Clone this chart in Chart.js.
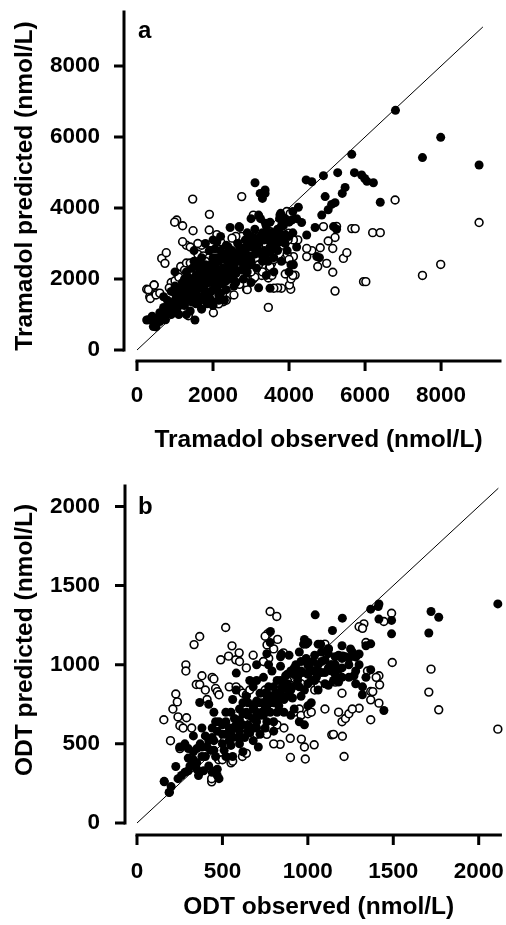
<!DOCTYPE html>
<html><head><meta charset="utf-8">
<script src="https://cdn.jsdelivr.net/npm/chart.js@4.4.1/dist/chart.umd.min.js"></script>
<style>
html,body{margin:0;padding:0;background:#fff;}
#wrap{width:506px;height:925px;position:relative;overflow:hidden;}
canvas{display:block;position:absolute;left:0;}
</style></head><body>
<div id="wrap">
<canvas id="ca" width="506" height="460" style="top:0;width:506px;height:460px"></canvas>
<canvas id="cb" width="506" height="465" style="top:460px;width:506px;height:465px"></canvas>
</div>
<script>
// ---------- Panel a: Tramadol (nmol/L) ----------
const tramadolTicks = [0, 2000, 4000, 6000, 8000];
const tramadolIdentity = [0, 9100];
const tramadolFilled = [
 [6800,6750],[7990,5990],[7510,5420],[9000,5210],[5650,5510],[5280,4995],[4905,4910],[4450,4790],[4600,4740],
 [5720,4995],[5910,4930],[5990,4830],[6220,4710],[6050,4750],[6400,4160],[5475,4580],[5400,4410],[5210,4150],
 [5120,4100],[4950,4320],[5030,3950],[4860,3800],[4245,4020],[4330,3590],[4685,3450],[5170,3475],[4465,3240],
 [4115,2400],[4730,2630],[3105,4710],[3370,4410],[3370,4510],[3300,4270],[2685,3475],[3380,3570],[3760,3800],
 [3820,3750],[3500,1740],[1525,845],[255,845],[430,660],[5250,3400],[4800,2600],[3780,3850],[4070,3660],[3240,4410],
 [300,850],[420,800],[500,650],[550,900],[600,1050],[650,980],[700,1200],[750,850],[800,1100],[850,1300],[900,1000],
 [950,1250],[1000,1400],[1050,1150],[1100,1550],[1150,1350],[1200,1700],[1250,1250],[1300,1500],[1350,1800],
 [1400,1600],[1450,1350],[1500,1900],[1550,2100],[1600,1750],[1650,1500],[1700,2000],[1750,2250],[1800,1850],
 [1850,1600],[1900,2100],[1950,2400],[2000,1900],[2050,2200],[2100,1750],[2150,2500],[2200,2050],[2250,2300],
 [2300,2700],[2350,1950],[2400,2450],[2450,2200],[2500,2800],[2550,2350],[2600,2600],[2650,3000],[2700,2500],
 [2750,2250],[2800,2800],[2850,3100],[2900,2600],[2950,2400],[3000,3200],[3050,2900],[3100,2700],[3150,2300],
 [3200,3000],[3300,3300],[3350,2800],[3400,3500],[3450,3100],[3500,2900],[3550,3300],[3600,3150],[3700,3400],
 [3750,3700],[3800,3050],[3850,3500],[3900,3250],[3950,2800],[4000,3600],[4050,2400],[4100,3900],[4200,3700],
 [1300,2200],[1500,2800],[1600,2350],[1700,2600],[1800,3000],[1900,2800],[2000,3100],[2100,3050],[2200,3200],
 [2400,2900],[1000,2200],[1200,1900],[1100,1000],[1400,1100],[1700,1150],[2000,1250],[2300,1400],[1850,1300],
 [2600,1900],[2800,2000],[3000,1900],[3200,1750],[3400,2100],[3600,2200],[3800,2500],[4000,2200],[3700,2800],
 [3300,2500],[2900,2200],[2500,2000],[2200,1600],[1900,1500],[1600,1300],[1300,1000],[800,1400],[900,1650],
 [700,1500],[1000,1800],[2350,2950],[2450,3450],[2700,3450],[2900,3300],[3100,3400],[3250,3700],[3500,3600],
 [1500,2500],[1800,2150],[2100,2600],[2400,2200],[2700,2900],[3000,2400],[3600,2600],[3900,3700],[4000,3200],
 [1100,1250],[1250,1650],[1450,1950],[1650,2200],[1950,1650],[2250,1850],[2550,2700],[2850,2500],[3450,2500],
 [3700,3200],[600,800],[1350,1400],[1750,1700],[2050,2050],[2150,1400],[1550,1600],[1450,2300],[1000,1600],
 [3000,3700],[3200,3800],[2050,2850],[2250,2650],[1600,2450],[1900,1900],[2500,2400],[700,1000],[400,950],
 [1150,1750],[1250,2000],[1350,2050],[1450,1700],[1550,1850],[1650,1950],[1750,1950],[1850,2000],[1950,2150],
 [2050,2400],[2150,2250],[2250,2050],[2350,2200],[2450,2350],[2550,2500],[2650,2700],[2750,2650],[2850,2800],
 [2950,2900],[3050,3100],[3150,3000],[3250,3200],[3350,3100],[3450,3300],[3550,3050],[3650,3000],[3750,3300],
 [3850,3150],[1200,1450],[1400,1800],[1600,2000],[1800,2400],[2000,2600],[2200,2800],[2400,2650],[2600,2250],
 [2800,2450],[3000,2650],[3200,2800],[3400,2700],[3600,2900],[3800,3500],[1700,1800],[1900,2300],[2100,2050],
 [2300,2550],[2500,2600],[2700,2750],[2900,2950],[3100,3150],[1000,1150],[900,1300],[800,1200],[1500,1500],
 [1800,1650],[2000,1700],[2200,1900],[2400,2050],[2600,2150],[2800,2300],[3000,2500],[3300,2650],[3500,2750],
 [3900,3000],[4100,3300],[4200,2900],[1550,1300],[1750,1450],[1950,1400],[2150,1550],[2350,1700],[2550,1800]
];
const tramadolOpen = [
 [9000,3590],[7990,2410],[7510,2100],[6790,4225],[6200,3305],[6400,3305],[5650,3420],[5740,3420],[5960,1925],
 [6020,1925],[5210,1660],[5150,2190],[5250,3480],[5210,3170],[5030,3070],[4905,3475],[5150,2860],[4990,2440],
 [4820,2880],[4755,2350],[5430,2580],[5520,2740],[4465,2630],[4600,2800],[4465,2860],[4230,3100],[4115,3100],
 [4160,2110],[4045,1710],[4010,1830],[3800,1740],[3700,1750],[3600,1740],[3455,1200],[3060,3800],[2755,4320],
 [1465,4250],[1905,3820],[1045,3660],[990,3600],[1200,3500],[1475,3360],[1900,3380],[650,2580],[770,2740],
 [735,2440],[255,1710],[335,1500],[450,1830],[520,1600],[1350,965],[2010,1050],[2885,1970],[3060,2010],
 [2885,1710],[2450,1550],[2270,1360],[3455,2030],[3280,2100],[3540,2440],[3480,2310],[3900,2140],[3895,2570],
 [4115,2630],[3175,3190],[3400,3100],[3510,3330],[3975,3100],[3990,3290],[3700,3290],[3940,3900],[4030,3840],
 [2830,3160],[2620,3100],
 [300,1700],[350,1450],[450,1830],[500,1550],[600,1600],[900,1900],[1000,1950],[1100,2050],[1150,2350],
 [1250,2250],[1300,2450],[1400,2450],[1450,2100],[1550,2450],[1600,2700],[1700,2950],[1750,2650],[1850,2250],
 [1950,2800],[2100,3250],[2200,3050],[2300,2850],[2050,2700],[1650,1400],[1850,1400],[1700,1200],[2150,1300],
 [2350,1400],[2550,1550],[2650,2300],[2750,3200],[2900,1700],[2850,1900],[3050,2000],[3100,2050],[3300,2200],
 [3350,2600],[3500,2350],[3600,2550],[4050,2000],[4100,2100],[3950,2700],[3850,2950],[1250,1350],[1050,1300],
 [950,1700],[850,1750],[1300,2950],[1200,3050],[2450,2600],[2600,3200],[2800,2700],[3200,2400],[1500,1950],
 [2250,2250],[2700,1850],[3100,2950],[3400,2950],[3550,2100],[4000,2550],[1900,2600],[2500,3150],[1800,2500],
 [1600,3000],[1400,2900],[2700,2100],[3000,2200]
];

// ---------- Panel b: ODT (nmol/L) ----------
const odtTicks = [0, 500, 1000, 1500, 2000];
const odtIdentity = [0, 2115];
const odtFilled = [
 [2112,1384],[1721,1336],[1766,1300],[1708,1200],[1490,1280],[1490,1195],[1416,1384],[1412,1367],[1368,1351],
 [1416,1288],[1445,711],[1368,968],[1368,1132],[1340,1120],[1319,810],[1300,1068],[1202,1294],[1144,1216],
 [1043,1315],[781,1210],[845,1066],[367,761],[581,947],[188,193],[159,263],[227,357],[1180,970],[1270,930],
 [1060,1130],[1075,1130],[975,1130],[990,1130],[1120,1070],[1135,1000],[1205,1055],[1250,1100],
 [160,260],[190,195],[200,230],[240,280],[260,300],[280,320],[300,410],[310,360],[330,450],[340,380],[360,300],
 [370,500],[380,420],[400,550],[410,480],[420,360],[440,600],[450,520],[460,420],[470,340],[480,640],[500,560],
 [510,460],[520,700],[540,600],[550,490],[560,780],[570,660],[590,540],[600,720],[610,620],[620,450],[640,800],
 [650,680],[660,570],[680,860],[690,750],[700,640],[710,480],[720,820],[730,700],[740,920],[750,600],[760,780],
 [770,860],[780,700],[790,960],[800,640],[810,820],[820,900],[830,740],[840,990],[850,860],[860,700],[870,930],
 [880,800],[890,1060],[900,960],[910,860],[920,720],[930,1000],[940,900],[950,1080],[960,800],[970,950],[980,620],
 [990,1040],[1000,880],[1010,980],[1020,760],[1030,1020],[1040,900],[1060,840],[1080,950],[1100,1030],[1120,870],
 [1140,960],[1160,1050],[1180,890],[1200,980],[1220,1050],[1240,920],[1260,1080],[1280,880],[1300,1000],
 [450,700],[520,420],[560,420],[600,500],[380,600],[330,550],[280,500],[250,480],[420,750],[350,380],[440,320],
 [470,300],[520,640],[630,540],[680,520],[720,560],[760,640],[800,580],[860,780],[900,680],[950,640],[1000,740],
 [700,1000],[760,1070],[780,1140],[840,1050],[1140,1000],[1180,1060],[1240,1000],[1320,860],[580,840],[620,760],
 [660,900],[770,1000],[800,760],[740,760],[700,900],[650,760],[550,700],[460,640],[430,460],[390,330],[350,470],
 [300,470],[540,520],[580,620],[620,690],[680,600],[720,680],[760,720],[840,830],[880,880],[920,940],[960,1020],
 [1040,1060],[1080,1080],[1120,1100],[1200,1120],[1280,1050],[1340,920],[1000,1140],[980,1160],[1060,1000],
 [1100,950],[1160,940],[650,620],[700,770],[750,820],[820,700],[870,850],[910,790],[460,330],[480,280],
 [420,520],[470,580],[520,560],[560,600],[600,650],[640,700],[680,720],[720,760],[760,820],[800,860],[840,900],
 [880,940],[920,980],[960,960],[1000,1000],[1040,960],[1080,1020],[1120,980],[1160,1000],[1200,1040],[1240,1040],
 [1280,960],[650,580],[700,700],[750,740],[800,800],[850,800],[900,840],[950,860],[1000,940],[1050,920],[1100,880],
 [1150,900],[1200,920],[550,560],[500,500],[450,460],[400,420],[350,340],[300,330],[600,580],[700,600],[780,760],
 [820,780],[860,880],[940,920],[980,840],[1020,900],[1060,960],[740,680],[680,660],[620,620],[560,540],[500,620],
 [440,540],[380,480],[330,400]
];
const odtOpen = [
 [2112,593],[1766,715],[1708,827],[1721,972],[1494,1014],[1490,1325],[1445,1273],[1328,1258],[1300,1240],
 [1416,930],[1420,873],[1416,757],[1368,831],[1368,778],[1368,652],[1349,960],[1300,725],[1212,420],[1202,548],
 [1140,557],[1037,494],[985,404],[898,414],[980,480],[962,530],[897,535],[838,497],[779,1336],[818,1305],
 [766,1196],[823,1160],[761,1125],[857,1075],[742,1020],[771,1040],[519,1235],[367,1178],[334,1127],[286,999],
 [286,960],[380,930],[347,875],[367,875],[227,815],[236,765],[157,652],[196,520],[240,670],[251,615],[251,470],
 [490,1031],[536,1054],[578,1031],[598,1075],[556,1119],[437,260],[437,280],[550,380],[617,420],[478,400],
 [210,720],[270,600],[290,665],[320,600],[400,840],[410,780],[440,920],[450,910],[460,850],[470,830],[480,810],
 [600,840],[620,820],[640,810],[660,840],[470,540],[500,400],[560,390],[640,440],[700,560],[740,1020],[750,1180],
 [800,1100],[880,900],[900,870],[620,560],[760,560],[800,500],[820,620],[860,600],[920,700],[950,720],[960,680],
 [1000,690],[1020,700],[1040,840],[1060,870],[1100,1130],[1120,1100],[1160,890],[1180,700],[1200,640],
 [1220,660],[1240,690],[1260,720],[1280,1050],[1320,1230],[1340,1140],[1380,830],[1400,920],[1150,560],
 [540,860],[580,860],[750,840],[640,980],[680,1060],[600,1020],[960,880],[1100,720],[1200,820]
];

const FONT = '"Liberation Sans", Arial, Helvetica, sans-serif';
const toXY = arr => arr.map(p => ({x: p[0], y: p[1]}));

const rAxes = {
  id: 'rAxes',
  afterDraw(chart, args, o) {
    const {ctx, chartArea: a, scales: {x, y}} = chart;
    ctx.save();
    ctx.strokeStyle = '#000';
    ctx.lineWidth = 3;
    const ax = a.left - o.yGap;
    const ay = a.bottom + o.xGap;
    ctx.lineCap = 'square';
    ctx.beginPath();
    ctx.moveTo(ax, y.getPixelForValue(0)); ctx.lineTo(ax, y.getPixelForValue(y.max));
    ctx.moveTo(x.getPixelForValue(0), ay); ctx.lineTo(x.getPixelForValue(x.max), ay);
    ctx.stroke();
    ctx.lineCap = 'butt';
    ctx.beginPath();
    y.ticks.forEach(t => { const p = y.getPixelForValue(t.value); ctx.moveTo(ax, p); ctx.lineTo(ax - o.tickLen, p); });
    x.ticks.forEach(t => { const p = x.getPixelForValue(t.value); ctx.moveTo(p, ay); ctx.lineTo(p, ay + o.tickLen); });
    ctx.stroke();
    ctx.fillStyle = '#000';
    ctx.font = 'bold 24px ' + FONT;
    ctx.textAlign = 'left'; ctx.textBaseline = 'alphabetic';
    ctx.fillText(o.letter, a.left + o.letterDx, a.top + o.letterDy);
    ctx.font = 'bold 24.5px ' + FONT;
    ctx.translate(o.yTitleX, o.yTitleY);
    ctx.rotate(-Math.PI / 2);
    ctx.textAlign = 'center'; ctx.textBaseline = 'middle';
    ctx.fillText(o.yTitle, 0, 0);
    ctx.restore();
  }
};

function makeChart(id, p) {
  return new Chart(document.getElementById(id), {
    type: 'scatter',
    data: {
      datasets: [
        {data: toXY(p.filled), pointRadius: 4.5, pointBorderWidth: 0, pointBackgroundColor: '#000', pointBorderColor: '#000', clip: false},
        {data: toXY(p.open), pointRadius: 3.9, pointBorderWidth: 1.6, pointBackgroundColor: '#fff', pointBorderColor: '#000', clip: false},
        {data: p.identity.map(v => ({x: v, y: v})), showLine: true, borderColor: '#000', borderWidth: 1, pointRadius: 0, clip: false}
      ]
    },
    options: {
      responsive: false, animation: false, devicePixelRatio: 1,
      layout: {padding: p.pad},
      plugins: {legend: {display: false}, tooltip: {enabled: false}, rAxes: p.axes},
      scales: {
        x: {
          type: 'linear', position: 'bottom', min: 0, max: p.xMax,
          grid: {display: false, drawTicks: false}, border: {display: false},
          afterBuildTicks: s => { s.ticks = p.ticks.map(v => ({value: v})); },
          afterFit: s => { s.height = p.xHeight; s.paddingLeft = 0; s.paddingRight = 0; },
          ticks: {padding: p.xTickPad, color: '#000', maxRotation: 0, autoSkip: false, callback: v => String(v), font: {family: FONT, size: 22.5, weight: 'bold'}},
          title: {display: true, text: p.xTitle, color: '#000', padding: {top: 0, bottom: p.xTitlePad}, font: {family: FONT, size: 24.5, weight: 'bold'}}
        },
        y: {
          type: 'linear', position: 'left', min: 0, max: p.yMax,
          grid: {display: false, drawTicks: false}, border: {display: false},
          afterBuildTicks: s => { s.ticks = p.ticks.map(v => ({value: v})); },
          afterFit: s => { s.width = 137; s.paddingTop = 0; s.paddingBottom = 0; },
          ticks: {padding: 37, color: '#000', autoSkip: false, callback: v => String(v), font: {family: FONT, size: 22.5, weight: 'bold'}}
        }
      }
    },
    plugins: [rAxes]
  });
}

makeChart('ca', {
  open: tramadolOpen, filled: tramadolFilled, identity: tramadolIdentity, ticks: tramadolTicks,
  xMax: 9550, yMax: 9520, xHeight: 110, xTickPad: 32, xTitlePad: 5,
  xTitle: 'Tramadol observed (nmol/L)',
  pad: {top: 12, right: 6, bottom: 0, left: 0},
  axes: {yGap: 13, xGap: 11, tickLen: 10, letter: 'a', letterDx: 1, letterDy: 26, yTitle: 'Tramadol predicted (nmol/L)', yTitleX: 25, yTitleY: 186}
});
makeChart('cb', {
  open: odtOpen, filled: odtFilled, identity: odtIdentity, ticks: odtTicks,
  xMax: 2127, yMax: 2129, xHeight: 102, xTickPad: 35, xTitlePad: 3,
  xTitle: 'ODT observed (nmol/L)',
  pad: {top: 26, right: 4, bottom: 0, left: 0},
  axes: {yGap: 12, xGap: 12, tickLen: 10, letter: 'b', letterDx: 1, letterDy: 28, yTitle: 'ODT predicted (nmol/L)', yTitleX: 25, yTitleY: 180}
});
</script>
</body></html>
